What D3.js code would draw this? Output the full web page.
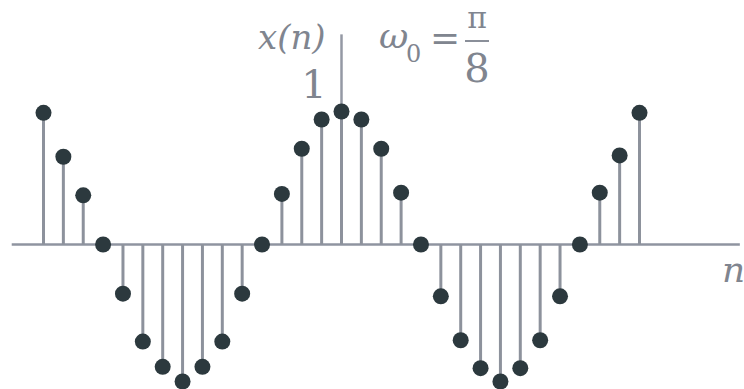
<!DOCTYPE html>
<html>
<head>
<meta charset="utf-8">
<script src="https://cdn.jsdelivr.net/npm/d3@7/dist/d3.min.js"></script>
<style>
  html, body { margin: 0; padding: 0; background: #ffffff; }
  svg { display: block; }
</style>
</head>
<body>
<svg id="chart" width="744" height="389"></svg>
<script>
// Sample indices n and the sampled cosine x(n) = cos(ω0 n), ω0 = π/8
const sampleIndex = [-15, -14, -13, -12, -11, -10, -9, -8, -7, -6, -5, -4, -3, -2, -1,
                      0, 1, 2, 3, 4, 5, 6, 7, 8, 9, 10, 11, 12, 13, 14, 15];
const sampleValue = [0.99, 0.66, 0.37, 0, -0.37, -0.73, -0.92, -1.03, -0.92, -0.73, -0.37, 0, 0.38, 0.72, 0.94,
                     1.0, 0.94, 0.72, 0.39, 0, -0.39, -0.72, -0.93, -1.03, -0.93, -0.72, -0.39, 0, 0.39, 0.67, 0.99];
const axisLabelY = "x(n)";
const axisLabelX = "n";
const unitTick = "1";

const serif = "DejaVu Serif, Liberation Serif, serif";
const textColor = "#80858f";

const svg = d3.select("#chart");

const x = d3.scaleLinear().domain([-15, 15]).range([43.5, 639.5]);
const y = d3.scaleLinear().domain([-1, 1]).range([377.5, 111.5]);

const stemColor = "#8d929c";
const dotColor = "#2c393e";

// horizontal n axis
svg.append("line")
  .attr("x1", x(-16.6)).attr("x2", x(20.05))
  .attr("y1", y(0)).attr("y2", y(0))
  .attr("stroke", "#8f94a0").attr("stroke-width", 2.5);

// vertical x(n) axis through n = 0
svg.append("line")
  .attr("x1", x(0)).attr("x2", x(0))
  .attr("y1", y(1.58)).attr("y2", y(0))
  .attr("stroke", "#9499a4").attr("stroke-width", 2.5);

const data = sampleIndex.map((n, i) => ({ n, v: sampleValue[i] }));

// stems
svg.append("g").selectAll("line")
  .data(data.filter(d => d.v !== 0))
  .join("line")
  .attr("x1", d => x(d.n)).attr("x2", d => x(d.n))
  .attr("y1", y(0)).attr("y2", d => y(d.v))
  .attr("stroke", stemColor).attr("stroke-width", 3);

// sample dots
svg.append("g").selectAll("circle")
  .data(data)
  .join("circle")
  .attr("cx", d => x(d.n)).attr("cy", d => y(d.v))
  .attr("r", 8)
  .attr("fill", dotColor);

function label(g, str, px, py, size, opts = {}) {
  return g.append("text")
    .attr("x", px).attr("y", py)
    .style("font-family", serif)
    .attr("font-size", size)
    .attr("font-style", opts.italic ? "italic" : "normal")
    .attr("text-anchor", opts.anchor || "start")
    .attr("fill", textColor)
    .text(str);
}

// axis labels
label(svg, axisLabelY, 258, 49, 34, { italic: true });
label(svg, unitTick, 314, 98, 40, { anchor: "middle" });
label(svg, axisLabelX, 722, 282, 36, { italic: true });

// ω0 = π/8 annotation
const ann = svg.append("g");
label(ann, "ω", 379, 48, 36, { italic: true });
label(ann, "0", 406, 62, 24);
label(ann, "=", 445, 50, 36, { anchor: "middle" });
label(ann, "π", 477, 28, 30, { anchor: "middle" });
ann.append("line")
  .attr("x1", 465).attr("x2", 489)
  .attr("y1", 41).attr("y2", 41)
  .attr("stroke", "#8a8f99").attr("stroke-width", 2);
label(ann, "8", 477, 82, 40, { anchor: "middle" });
</script>
</body>
</html>
